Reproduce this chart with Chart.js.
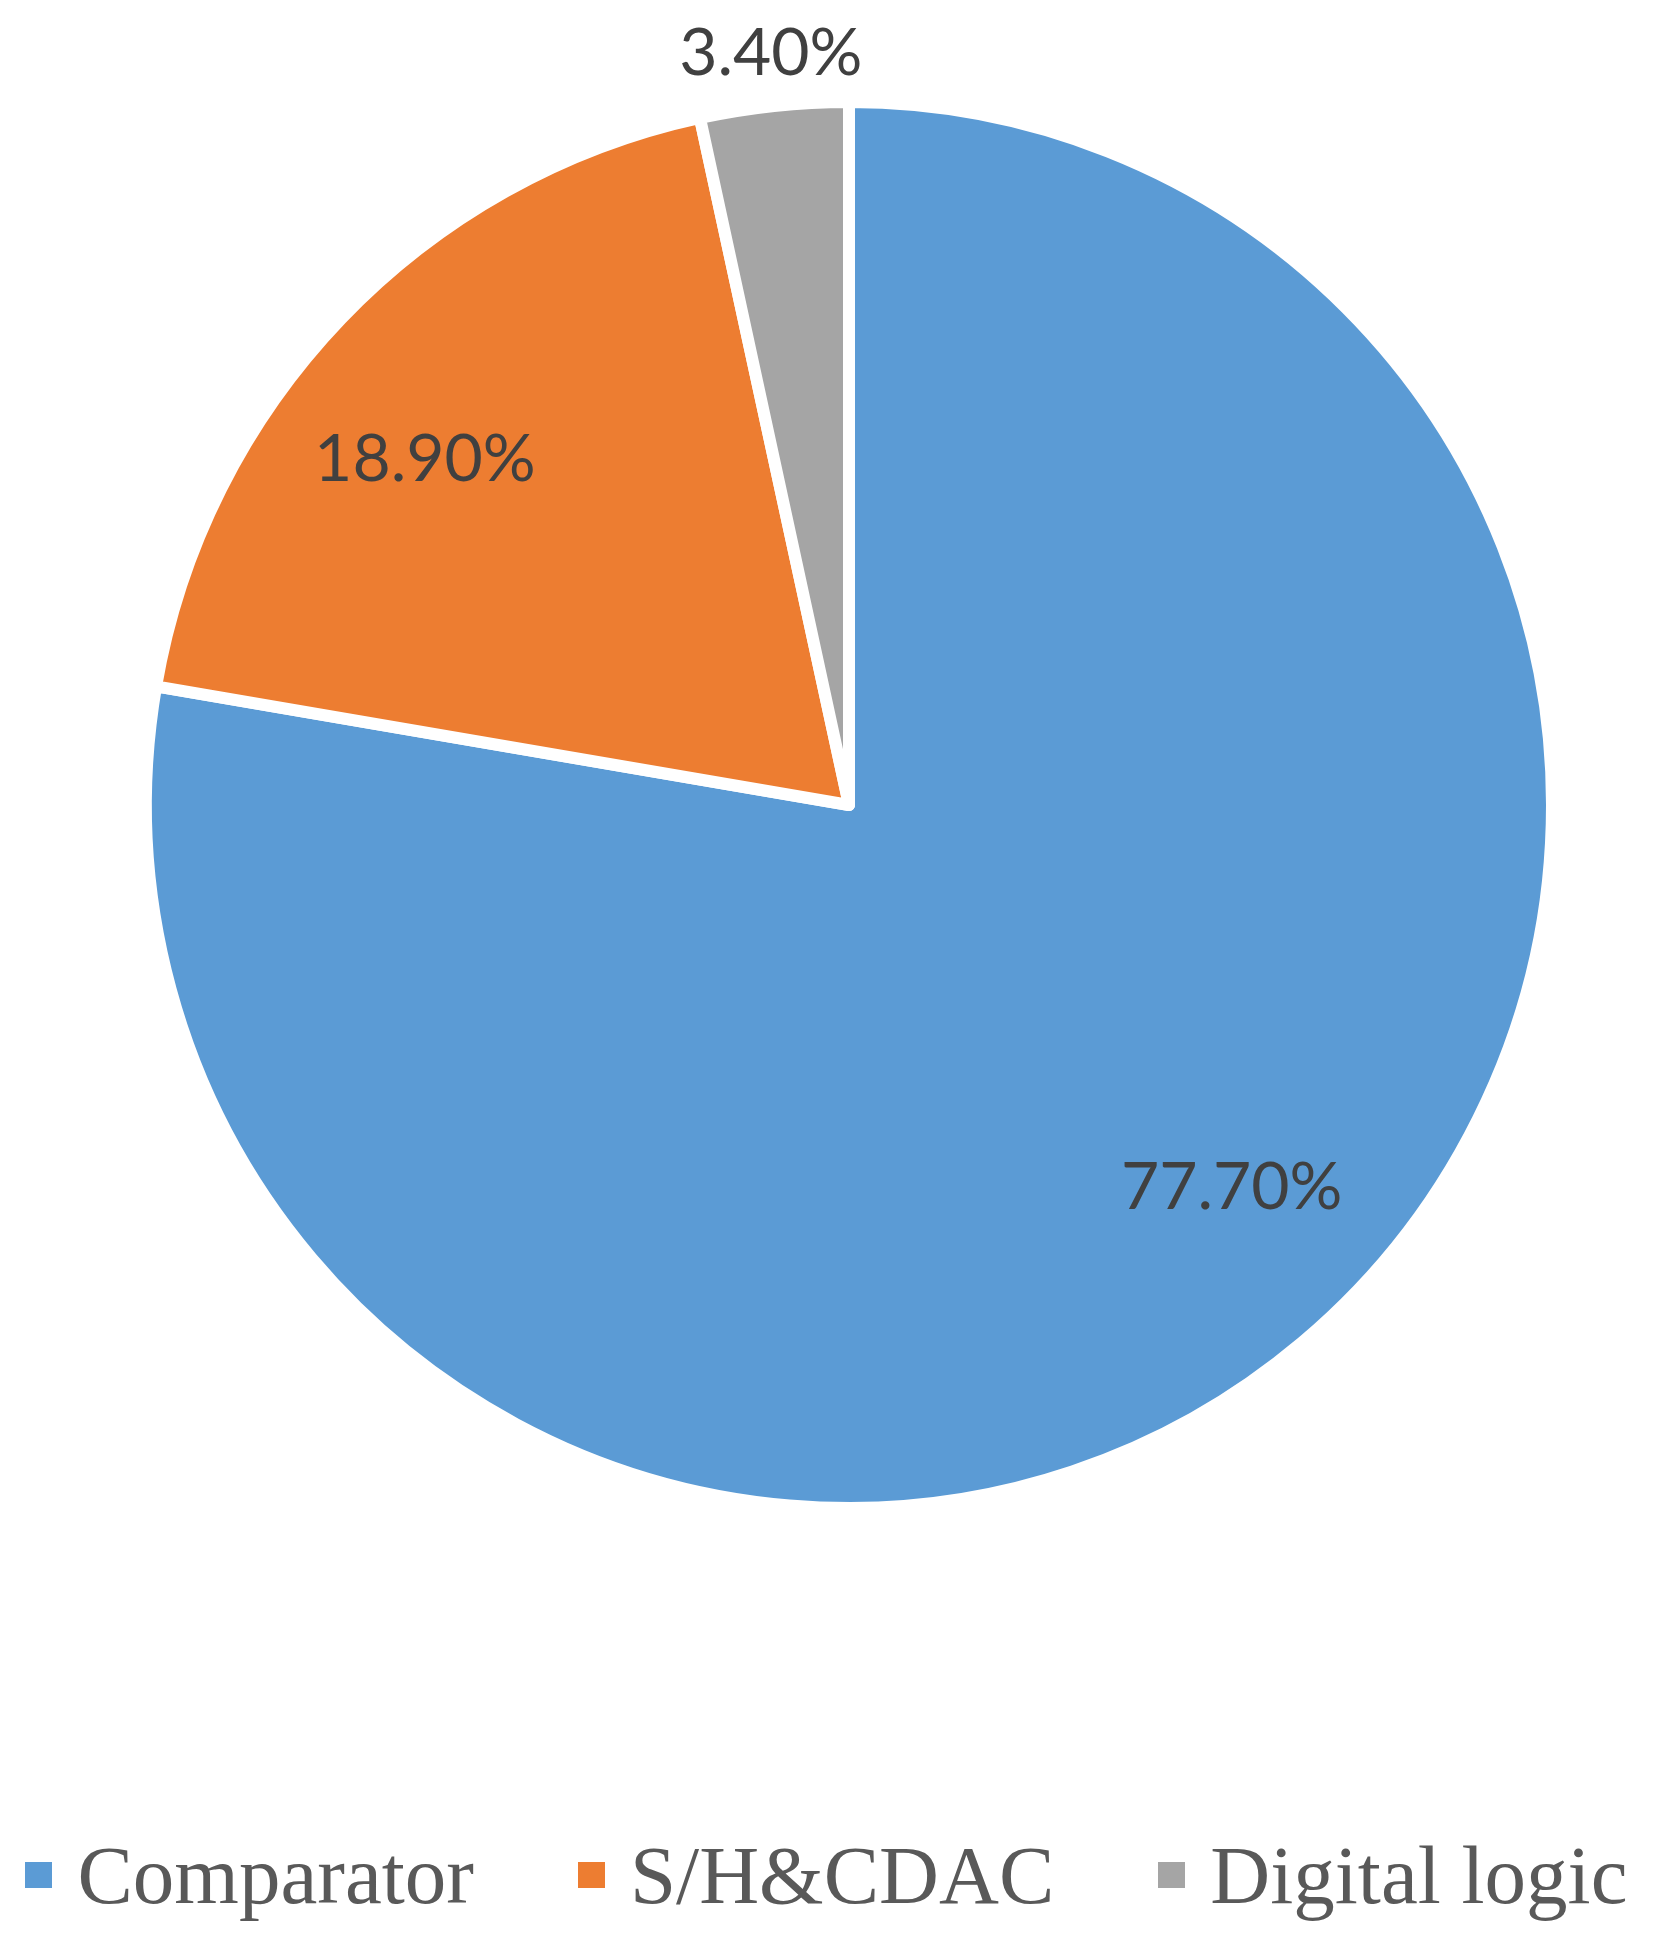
<!DOCTYPE html>
<html>
<head>
<meta charset="utf-8">
<script src="https://cdn.jsdelivr.net/npm/chart.js@4"></script>
<style>
    html, body { margin: 0; padding: 0; background: #fff; }
    #wrap { position: relative; width: 1653px; height: 1944px; }
    #legend {
        position: absolute; left: 0; right: 0; top: 1834px; height: 82px;
        display: flex; align-items: center; justify-content: center; gap: 104px;
        font-family: 'Liberation Serif', 'Times New Roman', serif;
        font-size: 83px; line-height: 82px; color: #595959;
    }
    .item { display: flex; align-items: center; gap: 25px; }
    .box { width: 27px; height: 26px; display: inline-block; }
</style>
</head>
<body>
<div id="wrap">
    <canvas id="pie"></canvas>
    <div id="legend"></div>
</div>
<script>
// === Data ===
const labels = ['Comparator', 'S/H&CDAC', 'Digital logic'];
const shares = [77.7, 18.9, 3.4];
const sliceColors = ['#5B9BD5', '#ED7D31', '#A5A5A5'];

// label placement: fraction of radius + small angle nudge (deg)
const labelRadius = [0.768, 0.78, 1.078];
const labelNudge = [-5, -4.4, 0.2];

// === Percentage labels ===
const pctLabels = {
    id: 'pctLabels',
    afterDatasetsDraw(chart) {
        const ctx = chart.ctx;
        const arcs = chart.getDatasetMeta(0).data;
        ctx.save();
        ctx.font = '66px Lato';
        ctx.fillStyle = '#404040';
        ctx.textAlign = 'center';
        ctx.textBaseline = 'alphabetic';
        arcs.forEach((arc, i) => {
            const mid = (arc.startAngle + arc.endAngle) / 2 + labelNudge[i] * Math.PI / 180;
            const r = arc.outerRadius * labelRadius[i];
            const x = arc.x + Math.cos(mid) * r;
            const y = arc.y + Math.sin(mid) * r;
            const text = shares[i].toFixed(2) + '%';
            const m = ctx.measureText(text);
            const yy = y + (m.actualBoundingBoxAscent - m.actualBoundingBoxDescent) / 2;
            ctx.fillText(text, x, yy);
        });
        ctx.restore();
    }
};

const chart = new Chart(document.getElementById('pie'), {
    type: 'pie',
    data: {
        labels: labels,
        datasets: [{
            data: shares,
            backgroundColor: sliceColors,
            borderColor: '#ffffff',
            borderWidth: 12,
            hoverBorderWidth: 12,
            borderJoinStyle: 'round'
        }]
    },
    options: {
        responsive: true,
        maintainAspectRatio: false,
        animation: false,
        events: [],
        layout: { padding: { top: 96, bottom: 430, left: 45, right: 0 } },
        plugins: {
            legend: { display: false },
            tooltip: { enabled: false }
        }
    },
    plugins: [pctLabels]
});

// === HTML legend ===
const legendEl = document.getElementById('legend');
labels.forEach((name, i) => {
    const item = document.createElement('div');
    item.className = 'item';
    const box = document.createElement('span');
    box.className = 'box';
    box.style.background = sliceColors[i];
    const txt = document.createElement('span');
    txt.textContent = name;
    item.appendChild(box);
    item.appendChild(txt);
    legendEl.appendChild(item);
});
</script>
</body>
</html>
